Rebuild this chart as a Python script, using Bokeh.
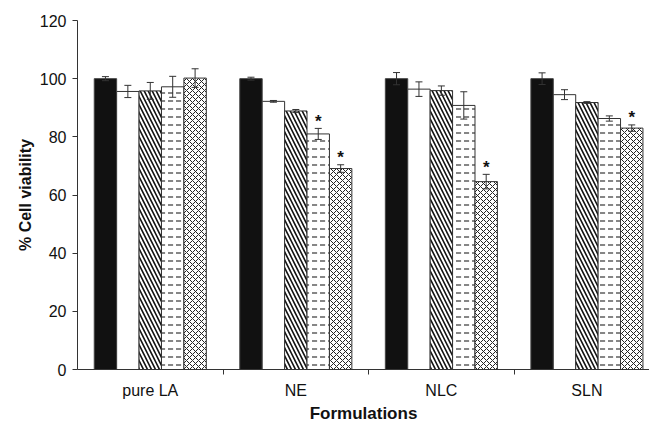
from bokeh.plotting import figure
from bokeh.models import Range1d, FixedTicker, ColumnDataSource, Whisker, TeeHead, Title
from bokeh.core.properties import value
from bokeh.embed import file_html
from bokeh.resources import INLINE

categories = ["pure LA", "NE", "NLC", "SLN"]
y_ticks = [0, 20, 40, 60, 80, 100, 120]

control = [100.0, 100.0, 100.0, 100.0]
control_err = [0.7, 0.5, 2.1, 2.0]
conc2 = [95.6, 92.2, 96.4, 94.5]
conc2_err = [2.1, 0.3, 2.5, 1.7]
conc3 = [95.8, 88.9, 95.9, 91.8]
conc3_err = [2.9, 0.5, 1.6, 0.3]
conc4 = [97.2, 81.0, 90.8, 86.3]
conc4_err = [3.6, 1.9, 4.7, 0.9]
conc5 = [100.2, 69.1, 64.6, 83.0]
conc5_err = [3.2, 1.3, 2.5, 1.1]
sig4 = [False, True, False, False]
sig5 = [False, True, True, True]

FONT = "Liberation Sans"
n_cat = len(categories)
bar_w = 0.154
offsets = [-2 * bar_w, -bar_w, 0.0, bar_w, 2 * bar_w]
x_end = 3.93

p = figure(width=649, height=422, output_backend="svg", toolbar_location=None,
           x_range=Range1d(0, x_end), y_range=Range1d(0, 120),
           min_border_left=77, min_border_right=0, min_border_top=20, min_border_bottom=0)
p.outline_line_color = None
p.xgrid.grid_line_color = None
p.ygrid.grid_line_color = None
p.background_fill_color = "white"
p.border_fill_color = "white"

series = [
    (control, control_err, dict(fill_color="#111111", line_color="#444444")),
    (conc2, conc2_err, dict(fill_color="white", line_color="#333333")),
    (conc3, conc3_err, dict(fill_color="white", line_color="#333333", hatch_pattern="\\",
                            hatch_scale=8, hatch_weight=1.6, hatch_color="#111111")),
    (conc4, conc4_err, dict(fill_color="white", line_color="#333333", hatch_pattern='"',
                            hatch_scale=8, hatch_weight=1.2, hatch_color="#333333")),
    (conc5, conc5_err, dict(fill_color="white", line_color="#333333", hatch_pattern="x",
                            hatch_scale=6, hatch_weight=1, hatch_color="#222222")),
]

for k, (vals, errs, style) in enumerate(series):
    xs = [i + 0.5 + offsets[k] for i in range(n_cat)]
    src = ColumnDataSource(dict(x=xs, top=vals,
                                lower=[v - e for v, e in zip(vals, errs)],
                                upper=[v + e for v, e in zip(vals, errs)]))
    p.vbar(x="x", top="top", width=bar_w, source=src, line_width=1, **style)
    w = Whisker(base="x", lower="lower", upper="upper", source=src, level="overlay",
                line_color="#333333", line_width=1,
                upper_head=TeeHead(size=7, line_color="#333333", line_width=1),
                lower_head=TeeHead(size=7, line_color="#333333", line_width=1))
    p.add_layout(w)

for k, (vals, errs, sig) in [(3, (conc4, conc4_err, sig4)), (4, (conc5, conc5_err, sig5))]:
    sx = [i + 0.5 + offsets[k] for i in range(n_cat) if sig[i]]
    sy = [vals[i] + errs[i] for i in range(n_cat) if sig[i]]
    p.text(x=sx, y=sy, text=["*"] * len(sx), text_font=value(FONT), text_font_style="bold",
           text_font_size="17px", text_align="center", text_baseline="alphabetic",
           y_offset=-7, text_color="#111111")

# x axis
xa = p.xaxis[0]
xa.ticker = FixedTicker(ticks=[i + 0.5 for i in range(n_cat)], minor_ticks=[1, 2, 3])
xa.major_label_overrides = {i + 0.5: c for i, c in enumerate(categories)}
xa.major_tick_line_color = None
xa.minor_tick_line_color = "#333333"
xa.minor_tick_out = 5
xa.minor_tick_in = 0
xa.axis_line_color = "#333333"
xa.major_label_text_font = FONT
xa.major_label_text_font_size = "16px"
xa.major_label_text_color = "#111111"
xa.major_label_standoff = 6

xtitle = Title(text="Formulations", align="center", offset=4, standoff=0,
               text_font=FONT, text_font_size="17px", text_font_style="bold",
               text_color="#111111")
p.add_layout(xtitle, "below")

# y axis
ya = p.yaxis[0]
ya.ticker = FixedTicker(ticks=y_ticks)
ya.minor_tick_line_color = None
ya.major_tick_out = 5
ya.major_tick_in = 0
ya.major_tick_line_color = "#333333"
ya.axis_line_color = "#333333"
ya.major_label_text_font = FONT
ya.major_label_text_font_size = "16px"
ya.major_label_text_color = "#111111"
ya.major_label_standoff = 6
ya.axis_label = "% Cell viability"
ya.axis_label_text_font = FONT
ya.axis_label_text_font_size = "16px"
ya.axis_label_text_font_style = "bold"
ya.axis_label_text_color = "#111111"
ya.axis_label_standoff = 3

open("out.html", "w").write(file_html(p, INLINE))
